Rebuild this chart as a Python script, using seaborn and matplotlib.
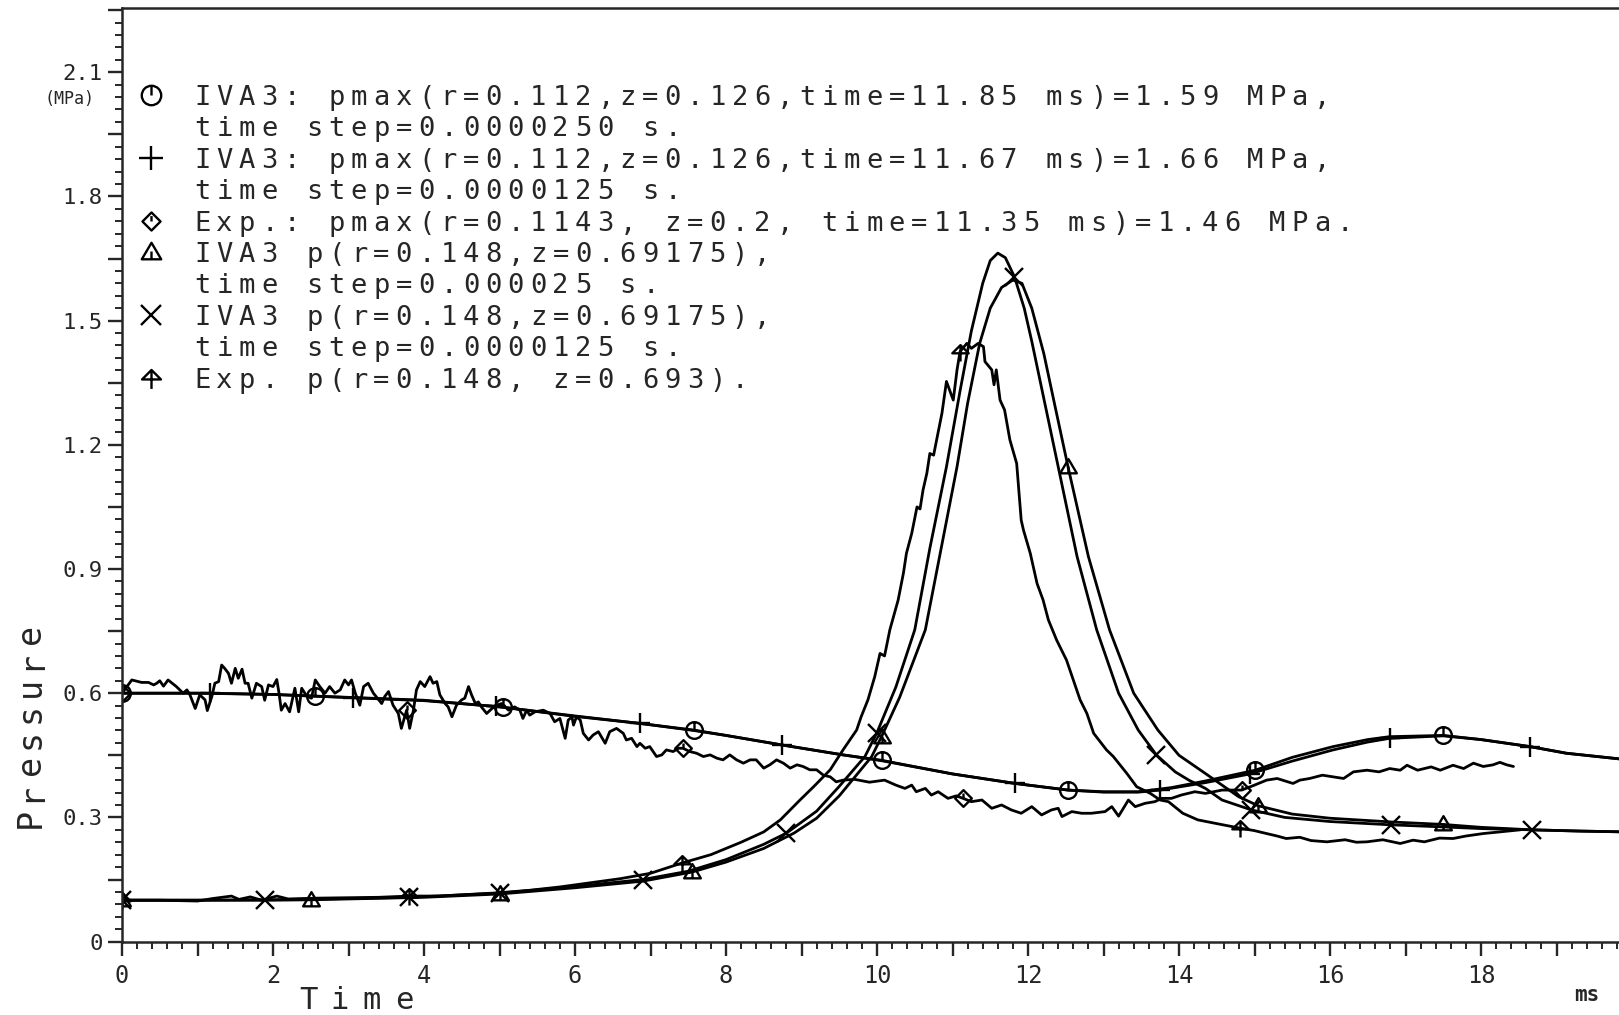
import numpy as np
import matplotlib
matplotlib.use("Agg")
import matplotlib.pyplot as plt
import seaborn as sns
from matplotlib.path import Path
from matplotlib.lines import Line2D
from matplotlib.ticker import MultipleLocator, FuncFormatter

# IVA3 p(r=0.112, z=0.126), time step 0.000025 s  (circles)
a_t = [0, 1, 2, 2.55, 3, 4, 5.05, 6, 6.86, 7.57, 8.0, 8.74, 9.55, 10.06, 10.37, 11.0, 11.83,
       12.53, 13.0, 13.46, 13.9, 14.35, 15.01, 15.5, 16.04, 16.5, 16.79, 17.5, 18.0, 18.65, 19.13, 19.9]
a_p = [0.600, 0.600, 0.597, 0.593, 0.590, 0.583, 0.566, 0.545, 0.527, 0.511, 0.498, 0.475, 0.451, 0.438, 0.427, 0.405, 0.382,
       0.366, 0.362, 0.362, 0.372, 0.388, 0.414, 0.445, 0.471, 0.488, 0.495, 0.498, 0.488, 0.471, 0.455, 0.440]
a_marks = [0, 2.55, 5.05, 7.57, 10.06, 12.53, 15.01, 17.5]

# IVA3, time step 0.0000125 s  (plus)
b_t = [0, 1.16, 2, 3.06, 4, 4.96, 6, 6.86, 7.57, 8.0, 8.74, 9.55, 10.06, 11.0, 11.83, 12.53, 13.0,
       13.46, 13.75, 14.35, 14.94, 15.5, 16.04, 16.5, 16.79, 17.5, 18.0, 18.65, 19.13, 19.9]
b_p = [0.600, 0.600, 0.597, 0.589, 0.582, 0.568, 0.544, 0.527, 0.510, 0.498, 0.475, 0.451, 0.437, 0.405, 0.382, 0.366, 0.361,
       0.361, 0.366, 0.384, 0.405, 0.436, 0.463, 0.482, 0.491, 0.497, 0.488, 0.471, 0.455, 0.440]
b_marks = [1.16, 3.06, 4.96, 6.86, 8.74, 11.83, 13.75, 14.94, 16.79, 18.65]

# Exp. (r=0.1143, z=0.2)  (diamonds)
c_t = [0.0, 0.13, 0.26, 0.35, 0.42, 0.46, 0.50, 0.55, 0.61, 0.72, 0.81, 0.86, 0.90, 0.97, 1.03, 1.10, 1.13, 1.19,
       1.23, 1.28, 1.32, 1.36, 1.41, 1.45, 1.50, 1.54, 1.59, 1.63, 1.67, 1.72, 1.78, 1.85, 1.89, 1.94, 2.00, 2.05,
       2.08, 2.11, 2.16, 2.22, 2.29, 2.34, 2.38, 2.45, 2.51, 2.56, 2.62, 2.69, 2.75, 2.82, 2.89, 2.95, 3.00, 3.04,
       3.09, 3.15, 3.20, 3.26, 3.33, 3.40, 3.44, 3.48, 3.53, 3.59, 3.66, 3.70, 3.77, 3.81, 3.86, 3.90, 3.95, 4.01,
       4.08, 4.12, 4.17, 4.21, 4.28, 4.32, 4.37, 4.43, 4.50, 4.54, 4.59, 4.63, 4.68, 4.72, 4.76, 4.83, 4.90, 4.96,
       5.03, 5.12, 5.20, 5.27, 5.31, 5.36, 5.40, 5.47, 5.58, 5.67, 5.73, 5.80, 5.87, 5.91, 5.96, 5.98, 6.02, 6.07,
       6.11, 6.18, 6.24, 6.31, 6.40, 6.46, 6.55, 6.64, 6.68, 6.75, 6.82, 6.86, 6.93, 6.99, 7.08, 7.15, 7.21, 7.30,
       7.37, 7.43, 7.52, 7.61, 7.70, 7.79, 7.88, 7.96, 8.05, 8.14, 8.23, 8.32, 8.40, 8.50, 8.58, 8.67, 8.76, 8.85,
       8.94, 9.02, 9.11, 9.20, 9.29, 9.38, 9.46, 9.55, 9.70, 9.90, 10.10, 10.25, 10.37, 10.46, 10.52, 10.64, 10.72,
       10.81, 10.94, 11.05, 11.14, 11.25, 11.39, 11.52, 11.65, 11.78, 11.91, 12.05, 12.18, 12.31, 12.40, 12.45,
       12.58, 12.71, 12.84, 13.02, 13.11, 13.20, 13.33, 13.42, 13.55, 13.68, 13.77, 13.90, 14.03, 14.21, 14.35,
       14.57, 14.74, 14.83, 15.00, 15.16, 15.30, 15.51, 15.60, 15.73, 15.90, 16.04, 16.18, 16.31, 16.49, 16.65,
       16.79, 16.93, 17.02, 17.16, 17.34, 17.46, 17.63, 17.77, 17.90, 18.03, 18.16, 18.25, 18.34, 18.43]
c_p = [0.600, 0.632, 0.626, 0.626, 0.620, 0.624, 0.630, 0.617, 0.632, 0.616, 0.600, 0.608, 0.596, 0.563, 0.596, 0.584, 0.558, 0.592,
       0.624, 0.628, 0.668, 0.660, 0.648, 0.624, 0.660, 0.636, 0.658, 0.624, 0.624, 0.588, 0.624, 0.616, 0.583, 0.620, 0.616, 0.633,
       0.600, 0.559, 0.575, 0.555, 0.612, 0.555, 0.612, 0.592, 0.588, 0.632, 0.616, 0.600, 0.616, 0.600, 0.608, 0.632, 0.620, 0.632,
       0.600, 0.571, 0.616, 0.624, 0.600, 0.584, 0.575, 0.592, 0.604, 0.571, 0.551, 0.515, 0.559, 0.515, 0.559, 0.608, 0.628, 0.616,
       0.640, 0.624, 0.628, 0.596, 0.575, 0.567, 0.543, 0.571, 0.584, 0.588, 0.616, 0.596, 0.575, 0.579, 0.567, 0.551, 0.563, 0.571,
       0.575, 0.559, 0.567, 0.559, 0.539, 0.559, 0.547, 0.555, 0.559, 0.551, 0.531, 0.539, 0.491, 0.535, 0.543, 0.523, 0.543, 0.535,
       0.503, 0.487, 0.499, 0.507, 0.479, 0.507, 0.515, 0.503, 0.487, 0.491, 0.471, 0.479, 0.467, 0.471, 0.447, 0.451, 0.463, 0.459,
       0.467, 0.467, 0.459, 0.455, 0.447, 0.451, 0.443, 0.439, 0.451, 0.439, 0.431, 0.439, 0.439, 0.419, 0.427, 0.439, 0.431, 0.419,
       0.427, 0.423, 0.415, 0.415, 0.402, 0.398, 0.386, 0.390, 0.392, 0.385, 0.390, 0.378, 0.370, 0.378, 0.362, 0.370, 0.354,
       0.362, 0.346, 0.352, 0.346, 0.338, 0.342, 0.322, 0.330, 0.318, 0.310, 0.326, 0.306, 0.318, 0.322, 0.302,
       0.314, 0.310, 0.310, 0.314, 0.326, 0.303, 0.342, 0.326, 0.334, 0.338, 0.346, 0.346, 0.354, 0.362, 0.358,
       0.366, 0.366, 0.366, 0.378, 0.390, 0.394, 0.382, 0.390, 0.394, 0.402, 0.398, 0.394, 0.410, 0.414, 0.410,
       0.418, 0.414, 0.426, 0.414, 0.422, 0.414, 0.426, 0.418, 0.431, 0.423, 0.427, 0.433, 0.427, 0.423]
c_marks = [0, 3.77, 7.43, 11.14, 14.83]

# IVA3 p(r=0.148, z=0.69175), time step 0.000025 s  (triangles)
d_t = [0, 1, 2, 2.5, 3, 4, 5, 6, 6.9, 7.55, 8.0, 8.5, 8.9, 9.2, 9.5, 9.93, 10.06, 10.3, 10.64, 10.85, 11.06,
       11.2, 11.36, 11.5, 11.65, 11.8, 11.92, 12.05, 12.21, 12.35, 12.53, 12.8, 13.08, 13.4, 13.72, 14.0, 14.35,
       14.79, 15.05, 15.5, 16.0, 16.81, 17.5, 18.0, 18.67, 19.3, 19.9]
d_p = [0.100, 0.100, 0.100, 0.101, 0.103, 0.107, 0.115, 0.130, 0.146, 0.168, 0.192, 0.225, 0.262, 0.298, 0.352, 0.447, 0.495,
       0.590, 0.753, 0.950, 1.147, 1.300, 1.445, 1.530, 1.580, 1.598, 1.590, 1.530, 1.420, 1.300, 1.147, 0.930, 0.753, 0.600,
       0.511, 0.450, 0.406, 0.350, 0.328, 0.308, 0.298, 0.289, 0.283, 0.276, 0.270, 0.267, 0.265]
d_marks = [0, 2.5, 5, 7.55, 10.06, 12.53, 15.05, 17.5]

# IVA3 p(r=0.148, z=0.69175), time step 0.0000125 s  (crosses)
e_t = [0, 1, 1.9, 3, 3.8, 5, 6, 6.9, 7.5, 8.0, 8.5, 8.8, 9.2, 9.5, 9.84, 10.0, 10.25, 10.5, 10.7, 10.92,
       11.1, 11.25, 11.4, 11.5, 11.6, 11.7, 11.82, 11.95, 12.05, 12.2, 12.4, 12.65, 12.91, 13.2, 13.46, 13.7,
       13.95, 14.13, 14.35, 14.57, 14.96, 15.4, 16.0, 16.81, 17.5, 18.0, 18.67, 19.3, 19.9]
e_p = [0.100, 0.100, 0.101, 0.104, 0.107, 0.117, 0.133, 0.150, 0.170, 0.198, 0.235, 0.262, 0.315, 0.375, 0.447, 0.505, 0.615,
       0.753, 0.950, 1.147, 1.330, 1.475, 1.590, 1.645, 1.663, 1.652, 1.606, 1.530, 1.450, 1.320, 1.147, 0.930, 0.753,
       0.600, 0.511, 0.451, 0.410, 0.390, 0.370, 0.342, 0.318, 0.300, 0.290, 0.282, 0.277, 0.273, 0.270, 0.267, 0.265]
e_marks = [0, 1.9, 3.8, 5, 6.9, 8.8, 10.0, 11.82, 13.7, 14.96, 16.81, 18.67]

# Exp. p(r=0.148, z=0.693)  (arrow)
f_t = [0, 0.5, 1.0, 1.2, 1.45, 1.55, 1.7, 1.85, 2.05, 2.2, 2.6, 3.0, 3.4, 3.8, 4.2, 4.6, 5.0, 5.4, 5.8, 6.2,
       6.6, 7.0, 7.42, 7.8, 8.2, 8.5, 8.72, 8.98, 9.16, 9.38, 9.55, 9.73, 9.79, 9.88, 9.97, 10.04, 10.10, 10.17,
       10.28, 10.35, 10.39, 10.46, 10.53, 10.57, 10.61, 10.66, 10.70, 10.75, 10.79, 10.86, 10.92, 11.01, 11.06,
       11.10, 11.19, 11.25, 11.34, 11.41, 11.43, 11.52, 11.55, 11.58, 11.63, 11.69, 11.76, 11.85, 11.91, 11.94,
       12.03, 12.12, 12.20, 12.27, 12.38, 12.51, 12.60, 12.69, 12.78, 12.87, 13.04, 13.13, 13.31, 13.44, 13.62,
       13.75, 13.86, 14.05, 14.25, 14.5, 14.81, 15.0, 15.16, 15.3, 15.42, 15.6, 15.75, 15.96, 16.2, 16.35, 16.49,
       16.7, 16.93, 17.1, 17.25, 17.45, 17.63, 17.8, 18.03, 18.25, 18.52]
f_p = [0.100, 0.100, 0.098, 0.104, 0.110, 0.102, 0.108, 0.100, 0.110, 0.103, 0.105, 0.106, 0.107, 0.110, 0.110, 0.114,
       0.118, 0.124, 0.132, 0.142, 0.152, 0.165, 0.190, 0.210, 0.240, 0.265, 0.294, 0.342, 0.374, 0.415, 0.463, 0.511,
       0.543, 0.584, 0.640, 0.696, 0.690, 0.753, 0.825, 0.890, 0.938, 0.986, 1.050, 1.045, 1.091, 1.131, 1.179, 1.175,
       1.212, 1.276, 1.353, 1.308, 1.381, 1.425, 1.445, 1.433, 1.445, 1.437, 1.401, 1.381, 1.345, 1.381, 1.308, 1.284,
       1.212, 1.155, 1.018, 0.994, 0.938, 0.865, 0.825, 0.777, 0.728, 0.680, 0.632, 0.584, 0.551, 0.503, 0.463, 0.447,
       0.406, 0.374, 0.358, 0.342, 0.338, 0.310, 0.294, 0.285, 0.274, 0.268, 0.261, 0.255, 0.249, 0.252, 0.244, 0.241,
       0.246, 0.240, 0.241, 0.246, 0.237, 0.245, 0.241, 0.250, 0.249, 0.255, 0.261, 0.265, 0.270]
f_marks = [0, 3.8, 7.42, 11.10, 14.81]

legend_lines = [
    "IVA3: pmax(r=0.112,z=0.126,time=11.85 ms)=1.59 MPa,",
    "time step=0.0000250 s.",
    "IVA3: pmax(r=0.112,z=0.126,time=11.67 ms)=1.66 MPa,",
    "time step=0.0000125 s.",
    "Exp.: pmax(r=0.1143, z=0.2, time=11.35 ms)=1.46 MPa.",
    "IVA3 p(r=0.148,z=0.69175),",
    "time step=0.000025 s.",
    "IVA3 p(r=0.148,z=0.69175),",
    "time step=0.0000125 s.",
    "Exp. p(r=0.148, z=0.693).",
]

# plotter style marker shapes
MV, LT, CL = Path.MOVETO, Path.LINETO, Path.CLOSEPOLY
m_circle = Path.make_compound_path(Path.unit_circle(), Path([(0, 0), (0, 1)], [MV, LT]))
m_diamond = Path.make_compound_path(
    Path([(0, -1), (1, 0), (0, 1), (-1, 0), (0, -1)], [MV, LT, LT, LT, CL]),
    Path([(0, 0), (0, 0.6)], [MV, LT]))
m_tri = Path.make_compound_path(
    Path([(-1, -0.7), (1, -0.7), (0, 1), (-1, -0.7)], [MV, LT, LT, CL]),
    Path([(0, -0.7), (0, 0.1)], [MV, LT]))
m_arrow = Path.make_compound_path(
    Path([(-1, -0.1), (0, 0.9), (1, -0.1), (-1, -0.1)], [MV, LT, LT, CL]),
    Path([(0, 0.9), (0, -1.1)], [MV, LT]))

sns.set_style("ticks")
plt.rcParams['font.family'] = ['DejaVu Sans Mono', 'DejaVu Sans']

W, H = 1619, 1015
fig = plt.figure(figsize=(W / 100, H / 100), dpi=100)
ax = fig.add_axes([122 / W, 1 - 941.6 / H, 1 - 122 / W, (941.6 - 8) / H])

series = [
    (a_t, a_p, a_marks, m_circle, 12),
    (b_t, b_p, b_marks, "+", 14),
    (c_t, c_p, c_marks, m_diamond, 12),
    (d_t, d_p, d_marks, m_tri, 12),
    (e_t, e_p, e_marks, "x", 13),
    (f_t, f_p, f_marks, m_arrow, 13),
]
for t, p, marks, mk, ms in series:
    t = np.asarray(t)
    idx = [int(np.argmin(np.abs(t - m))) for m in marks]
    sns.lineplot(x=t, y=p, ax=ax, color="black", linewidth=2.0, sort=False, estimator=None,
                 marker=mk, markevery=idx, markersize=ms, markerfacecolor="none",
                 markeredgecolor="black", markeredgewidth=1.7, legend=False)

ax.set_xlim(0, (W - 122) / 75.5)
ax.set_ylim(0, (941.6 - 8) / 414)
ax.xaxis.set_major_locator(MultipleLocator(1))
ax.xaxis.set_minor_locator(MultipleLocator(0.2))
ax.yaxis.set_major_locator(MultipleLocator(0.15))
ax.yaxis.set_minor_locator(MultipleLocator(0.03))
ax.xaxis.set_major_formatter(FuncFormatter(lambda v, pos: f"{int(round(v))}" if round(v) % 2 == 0 else ""))
ax.yaxis.set_major_formatter(FuncFormatter(
    lambda v, pos: ("0" if abs(v) < 1e-9 else f"{v:.1f}") if round(v / 0.15) % 2 == 0 else ""))
ax.tick_params(which="major", direction="out", length=10, width=1.7, labelsize=17, top=False, right=False)
ax.tick_params(which="minor", direction="out", length=5, width=1.4, top=False, right=False)
ax.tick_params(axis="y", which="major", labelsize=16, pad=4)
ax.tick_params(axis="x", which="major", pad=6)
for side in ["left", "bottom", "top"]:
    ax.spines[side].set_linewidth(1.8)
ax.spines["right"].set_visible(False)
ax.set_xlabel("")
ax.set_ylabel("")


def spaced(x, y, s, pitch, size, vertical=False):
    # fixed-pitch plotter lettering, x/y in pixels from the top-left corner
    for i, ch in enumerate(s):
        if ch == " ":
            continue
        if vertical:
            fig.text(x / W, 1 - (y - i * pitch) / H, ch, size=size, rotation=90,
                     rotation_mode="anchor", ha="center", va="baseline")
        else:
            fig.text((x + (i + 0.5) * pitch) / W, 1 - y / H, ch, size=size, ha="center", va="baseline")


key_markers = {0: (m_circle, 14), 2: ("+", 17), 4: (m_diamond, 13), 5: (m_tri, 14), 7: ("x", 15), 9: (m_arrow, 15)}
for i, line in enumerate(legend_lines):
    yc = 95 + i * 31.4
    spaced(191, yc + 10, line, 22.4, 19.5)
    if i in key_markers:
        mk, ms = key_markers[i]
        fig.add_artist(Line2D([151 / W], [1 - yc / H], marker=mk, markersize=ms, color="black",
                              markerfacecolor="none", markeredgewidth=1.7, linestyle="none",
                              transform=fig.transFigure))

spaced(40, 818, "Pressure", 26.3, 24, vertical=True)
spaced(292, 1009, "Time", 32, 22)
fig.text(69 / W, 1 - 99 / H, "(MPa)", size=12, ha="center", va="center")
fig.text(1587 / W, 1 - 995 / H, "ms", size=15, weight="bold", ha="center", va="center")

plt.savefig("out.png", dpi=100)
